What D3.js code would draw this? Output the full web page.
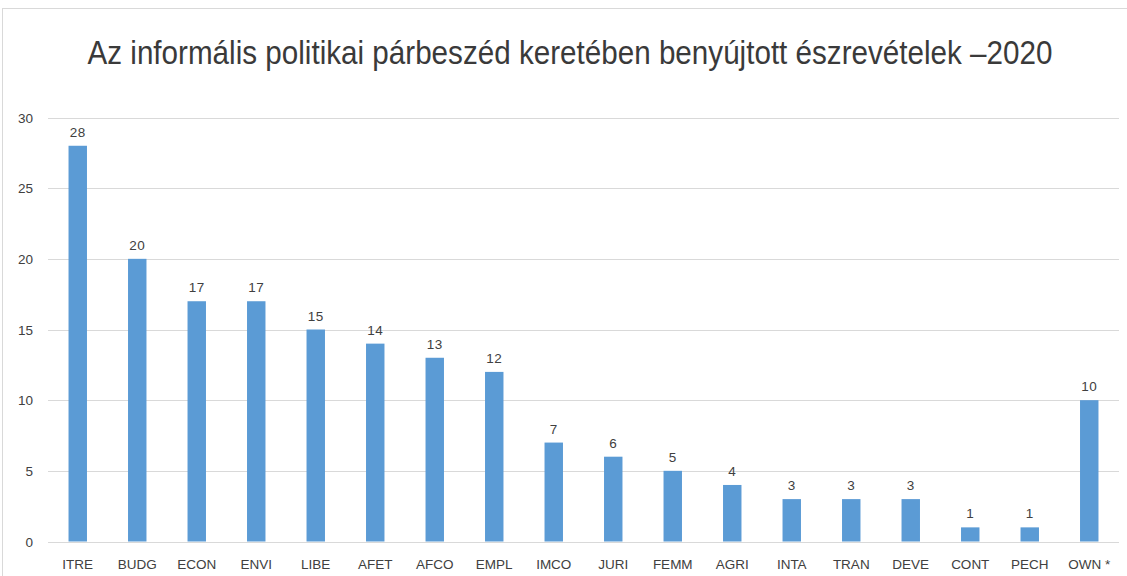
<!DOCTYPE html>
<html>
<head>
<meta charset="utf-8">
<script src="https://cdnjs.cloudflare.com/ajax/libs/d3/7.8.5/d3.min.js"></script>
<style>
  body { margin: 0; background: #fff; }
  text { font-family: "Liberation Sans", Arial, sans-serif; }
</style>
</head>
<body>
<div id="chart"></div>
<script>
var categories = ["ITRE","BUDG","ECON","ENVI","LIBE","AFET","AFCO","EMPL","IMCO","JURI","FEMM","AGRI","INTA","TRAN","DEVE","CONT","PECH","OWN *"];
var values = [28,20,17,17,15,14,13,12,7,6,5,4,3,3,3,1,1,10];
var yTicks = [0,5,10,15,20,25,30];
var title = "Az informális politikai párbeszéd keretében benyújtott észrevételek \u20132020";

var width = 1127, height = 576;
var plotLeft = 48, plotRight = 1119, plotTop = 117.5, plotBottom = 541.5;

var svg = d3.select("#chart").append("svg")
    .attr("width", width)
    .attr("height", height);

// chart border
svg.append("rect")
    .attr("x", 2.5).attr("y", 8.5)
    .attr("width", 1140).attr("height", 600)
    .attr("fill", "none")
    .attr("stroke", "#d9d9d9");

svg.append("text")
    .attr("x", 570).attr("y", 64)
    .attr("text-anchor", "middle")
    .attr("font-size", 33)
    .attr("fill", "#3a3a3a")
    .attr("textLength", 965)
    .attr("lengthAdjust", "spacingAndGlyphs")
    .text(title);

var x = d3.scaleBand().domain(categories).range([plotLeft, plotRight]).paddingInner(0.69).paddingOuter(0.345);
var y = d3.scaleLinear().domain([0, 30]).range([plotBottom, plotTop]);

// gridlines
svg.append("g").selectAll("line")
    .data(yTicks).enter().append("line")
    .attr("x1", plotLeft).attr("x2", plotRight)
    .attr("y1", function(d){ return Math.round(y(d)) + 0.5; })
    .attr("y2", function(d){ return Math.round(y(d)) + 0.5; })
    .attr("stroke", "#d9d9d9");

// y tick labels
svg.append("g").selectAll("text")
    .data(yTicks).enter().append("text")
    .attr("x", 33).attr("y", function(d){ return y(d) + 5; })
    .attr("text-anchor", "end")
    .attr("font-size", 13.5)
    .attr("fill", "#404040")
    .text(function(d){ return d; });

// bars
svg.append("g").selectAll("rect")
    .data(values).enter().append("rect")
    .attr("x", function(d, i){ return x(categories[i]); })
    .attr("y", function(d){ return y(d); })
    .attr("width", x.bandwidth())
    .attr("height", function(d){ return y(0) - y(d); })
    .attr("fill", "#5b9bd5");

// value labels
svg.append("g").selectAll("text")
    .data(values).enter().append("text")
    .attr("x", function(d, i){ return x(categories[i]) + x.bandwidth()/2; })
    .attr("y", function(d){ return y(d) - 9; })
    .attr("text-anchor", "middle")
    .attr("font-size", 13.5)
    .attr("letter-spacing", 0.5)
    .attr("fill", "#404040")
    .text(function(d){ return d; });

// x labels
svg.append("g").selectAll("text")
    .data(categories).enter().append("text")
    .attr("x", function(d){ return x(d) + x.bandwidth()/2; })
    .attr("y", 569)
    .attr("text-anchor", "middle")
    .attr("font-size", 13.5)
    .attr("fill", "#404040")
    .text(function(d){ return d; });
</script>
</body>
</html>
